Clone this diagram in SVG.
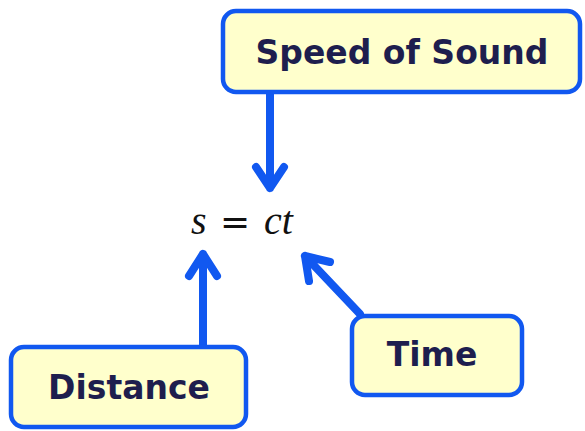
<svg xmlns="http://www.w3.org/2000/svg" width="585" height="431" viewBox="0 0 585 431">
<style>
.box{fill:#ffffcc;stroke:#1158f0;stroke-width:4.5}
.lbl{font-family:"DejaVu Sans",Verdana,sans-serif;font-weight:bold;font-size:33px;fill:#1e1e4e;text-anchor:middle}
.arr{fill:none;stroke:#1158f0;stroke-width:8;stroke-linecap:round;stroke-linejoin:round}
.math{font-family:"Liberation Serif","DejaVu Serif",serif;font-size:40px;fill:#111}
</style>
<rect width="585" height="431" fill="#fff"/>
<g id="connectors">
<path class="arr" d="M270 94 V188 M256 167 L270 188 L284 167"/>
<path class="arr" d="M203 345 V254 M189 276 L203 254 L217 276"/>
<path class="arr" d="M360 314 L305 256 M309 281 L305 256 L330 262"/>
</g>
<g id="equation">
<text class="math" x="191" y="234"><tspan font-style="italic">s</tspan><tspan x="220" font-family="DejaVu Sans,sans-serif" font-size="36">=</tspan><tspan x="264" font-style="italic">ct</tspan></text>
</g>
<g id="speed">
<rect class="box" x="223" y="11" width="357" height="81" rx="13"/>
<text class="lbl" x="402" y="64">Speed of Sound</text>
</g>
<g id="distance">
<rect class="box" x="11" y="347" width="235" height="80" rx="13"/>
<text class="lbl" x="129" y="399">Distance</text>
</g>
<g id="time">
<rect class="box" x="352" y="316" width="170" height="79" rx="13"/>
<text class="lbl" x="432" y="366">Time</text>
</g>
</svg>
